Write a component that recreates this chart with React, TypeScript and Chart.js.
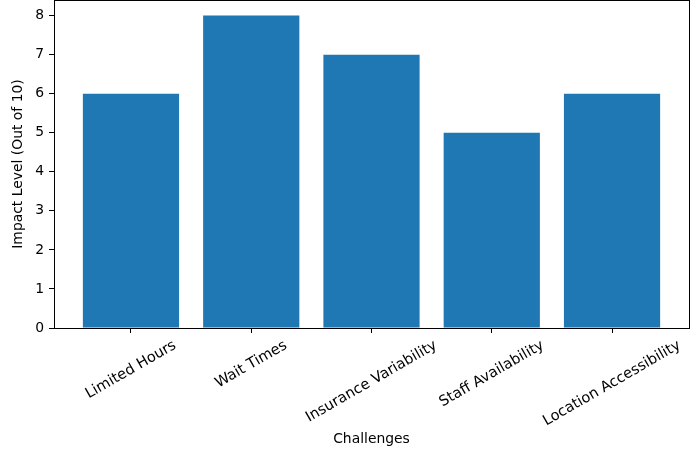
import { useEffect, useRef } from "react";
import { Chart, registerables, type Plugin } from "chart.js";

Chart.register(...registerables);

const categories = [
  "Limited Hours",
  "Wait Times",
  "Insurance Variability",
  "Staff Availability",
  "Location Accessibility"
];
const impact = [6, 8, 7, 5, 6];
const yTicks = [0, 1, 2, 3, 4, 5, 6, 7, 8];

const FONT = '"DejaVu Sans", sans-serif';
const FONT_SIZE = 13.9;
const XLABEL_SIZE = 14.6;
const BAR = "#1f77b4";

// matplotlib-like frame around the plot area
const framePlugin: Plugin = {
  id: "frame",
  afterDatasetsDraw(chart) {
    const { ctx, chartArea: a } = chart;
    const l = Math.floor(a.left) + 0.5;
    const r = Math.floor(a.right) + 0.5;
    const t = Math.floor(a.top) + 0.5;
    const b = Math.floor(a.bottom) + 0.5;
    ctx.save();
    ctx.strokeStyle = "#000";
    ctx.lineWidth = 1;
    ctx.strokeRect(l, t, r - l, b - t);
    ctx.restore();
  }
};

// rotated tick labels, centred under each tick (matplotlib ha="center")
const xLabelsPlugin: Plugin = {
  id: "xLabels",
  afterDraw(chart) {
    const { ctx, chartArea } = chart;
    const x = chart.scales.x;
    const rot = (30 * Math.PI) / 180;
    ctx.save();
    ctx.font = `${XLABEL_SIZE}px ${FONT}`;
    ctx.fillStyle = "#000";
    ctx.textAlign = "center";
    ctx.textBaseline = "middle";
    categories.forEach((label, i) => {
      const w = ctx.measureText(label).width;
      const h = XLABEL_SIZE;
      const bh = w * Math.sin(rot) + h * Math.cos(rot);
      const cx = x.getPixelForValue(i);
      const cy = chartArea.bottom + 10 + bh / 2;
      ctx.save();
      ctx.translate(cx, cy);
      ctx.rotate(-rot);
      ctx.fillText(label, 0, 0);
      ctx.restore();
    });
    ctx.restore();
  }
};

export default function App() {
  const ref = useRef<HTMLCanvasElement | null>(null);

  useEffect(() => {
    document.body.style.margin = "0";
    if (!ref.current) return;
    const chart = new Chart(ref.current, {
      type: "bar",
      data: {
        datasets: [
          {
            label: "Impact",
            data: impact.map((v, i) => ({ x: i, y: v })),
            backgroundColor: BAR,
            borderWidth: 0,
            barPercentage: 1,
            categoryPercentage: 0.8
          }
        ]
      },
      options: {
        animation: false,
        responsive: true,
        maintainAspectRatio: false,
        layout: { padding: { top: 0, right: 11, bottom: 0, left: 0 } },
        plugins: { legend: { display: false }, tooltip: { enabled: false } },
        scales: {
          x: {
            type: "linear",
            min: -0.64,
            max: 4.64,
            offset: false,
            afterBuildTicks: (s) => {
              s.ticks = categories.map((_, i) => ({ value: i }));
            },
            afterFit: (s) => {
              s.height = 122;
              s.paddingLeft = 0;
              s.paddingRight = 0;
            },
            ticks: { display: false },
            grid: {
              offset: false,
              drawOnChartArea: false,
              color: "#000",
              tickLength: 5,
              tickWidth: 1
            },
            border: { color: "#000", width: 1 },
            title: {
              display: true,
              text: "Challenges",
              color: "#000",
              font: { family: FONT, size: FONT_SIZE },
              padding: { top: 0, bottom: 2 }
            }
          },
          y: {
            min: 0,
            max: 8.4,
            afterBuildTicks: (s) => {
              s.ticks = yTicks.map((v) => ({ value: v }));
            },
            afterFit: (s) => {
              s.width = 54;
              s.paddingTop = 0;
              s.paddingBottom = 0;
            },
            ticks: {
              color: "#000",
              padding: 5,
              font: { family: FONT, size: FONT_SIZE }
            },
            grid: { drawOnChartArea: false, color: "#000", tickLength: 5, tickWidth: 1 },
            border: { color: "#000", width: 1 },
            title: {
              display: true,
              text: "Impact Level (Out of 10)",
              color: "#000",
              font: { family: FONT, size: FONT_SIZE },
              padding: { top: 10, bottom: 0 }
            }
          }
        }
      },
      plugins: [framePlugin, xLabelsPlugin]
    });
    return () => chart.destroy();
  }, []);

  return (
    <div style={{ width: 700, height: 450, position: "relative" }}>
      <canvas ref={ref} />
    </div>
  );
}
